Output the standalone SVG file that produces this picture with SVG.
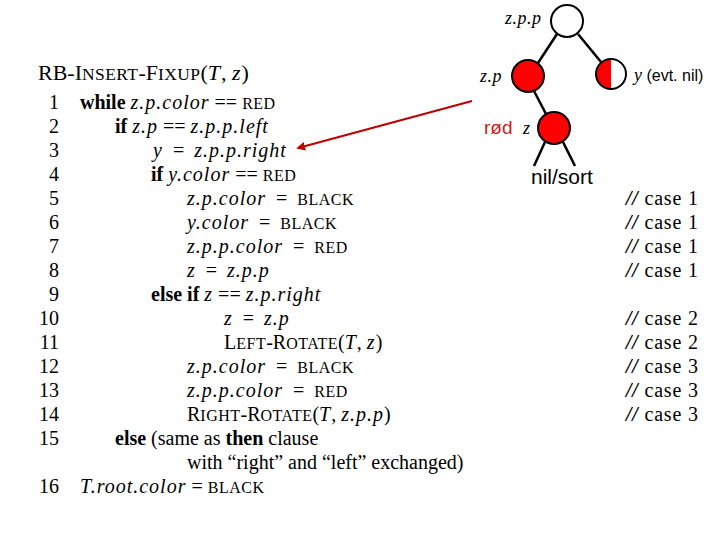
<svg xmlns="http://www.w3.org/2000/svg" width="720" height="540" viewBox="0 0 720 540">
<style>
.code{font-family:"Liberation Serif","Times New Roman",serif;font-size:20px;fill:#000}
.num{text-anchor:end}
.b{font-weight:bold}
.i{font-style:italic;letter-spacing:1px}
.sc{font-size:16px;letter-spacing:0.5px}
.cm{font-family:"Liberation Serif","Times New Roman",serif;font-size:20px;fill:#000;letter-spacing:0.8px}
.bi{font-weight:bold;font-style:italic}
.lbl{font-family:"Liberation Serif","Times New Roman",serif;font-style:italic;font-size:18px;fill:#000}
.sans{font-family:"Liberation Sans",Arial,sans-serif;fill:#000}
.edge{stroke:#000;stroke-width:2.5;fill:none}
.node{stroke:#000;stroke-width:2}
</style>
<defs>
<marker id="ah" viewBox="0 0 10 10" refX="8" refY="5" markerWidth="4" markerHeight="4" orient="auto-start-reverse">
<path d="M0,0 L10,5 L0,10 z" fill="#c00000"/>
</marker>
</defs>
<rect width="720" height="540" fill="#fff"/>

<g id="code">
<text class="code" x="38" y="80" style="font-size:22px">RB-I<tspan style="font-size:17.5px;letter-spacing:0.4px">NSERT</tspan>-F<tspan style="font-size:17.5px;letter-spacing:0.4px">IXUP</tspan>(<tspan class="i">T</tspan>, <tspan class="i">z</tspan>)</text>

<text class="code num" x="59" y="109">1</text>
<text class="code" x="80" y="109"><tspan class="b">while</tspan> <tspan class="i">z.p.color</tspan> == <tspan class="sc">RED</tspan></text>
<text class="code num" x="59" y="133">2</text>
<text class="code" x="115" y="133"><tspan class="b">if</tspan> <tspan class="i">z.p</tspan> == <tspan class="i">z.p.p.left</tspan></text>
<text class="code num" x="59" y="157">3</text>
<text class="code" x="153" y="157" xml:space="preserve"><tspan class="i">y</tspan>  =  <tspan class="i">z.p.p.right</tspan></text>
<text class="code num" x="59" y="181">4</text>
<text class="code" x="151" y="181"><tspan class="b">if</tspan> <tspan class="i">y.color</tspan> == <tspan class="sc">RED</tspan></text>
<text class="code num" x="59" y="205">5</text>
<text class="code" x="187" y="205" xml:space="preserve"><tspan class="i">z.p.color</tspan>  =  <tspan class="sc">BLACK</tspan></text>
<text class="code num" x="59" y="229">6</text>
<text class="code" x="187" y="229" xml:space="preserve"><tspan class="i">y.color</tspan>  =  <tspan class="sc">BLACK</tspan></text>
<text class="code num" x="59" y="253">7</text>
<text class="code" x="187" y="253" xml:space="preserve"><tspan class="i">z.p.p.color</tspan>  =  <tspan class="sc">RED</tspan></text>
<text class="code num" x="59" y="277">8</text>
<text class="code" x="187" y="277" xml:space="preserve"><tspan class="i">z</tspan>  =  <tspan class="i">z.p.p</tspan></text>
<text class="code num" x="59" y="301">9</text>
<text class="code" x="151" y="301"><tspan class="b">else if</tspan> <tspan class="i">z</tspan> == <tspan class="i">z.p.right</tspan></text>
<text class="code num" x="59" y="325">10</text>
<text class="code" x="224" y="325" xml:space="preserve"><tspan class="i">z</tspan>  =  <tspan class="i">z.p</tspan></text>
<text class="code num" x="59" y="349">11</text>
<text class="code" x="224" y="349">L<tspan class="sc">EFT</tspan>-R<tspan class="sc">OTATE</tspan>(<tspan class="i">T</tspan>, <tspan class="i">z</tspan>)</text>
<text class="code num" x="59" y="373">12</text>
<text class="code" x="187" y="373" xml:space="preserve"><tspan class="i">z.p.color</tspan>  =  <tspan class="sc">BLACK</tspan></text>
<text class="code num" x="59" y="397">13</text>
<text class="code" x="187" y="397" xml:space="preserve"><tspan class="i">z.p.p.color</tspan>  =  <tspan class="sc">RED</tspan></text>
<text class="code num" x="59" y="421">14</text>
<text class="code" x="187" y="421">R<tspan class="sc">IGHT</tspan>-R<tspan class="sc">OTATE</tspan>(<tspan class="i">T</tspan>, <tspan class="i">z.p.p</tspan>)</text>
<text class="code num" x="59" y="445">15</text>
<text class="code" x="115" y="445"><tspan class="b">else</tspan> (same as <tspan class="b">then</tspan> clause</text>
<text class="code" x="187" y="469">with “right” and “left” exchanged)</text>
<text class="code num" x="59" y="493">16</text>
<text class="code" x="80" y="493" xml:space="preserve"><tspan class="i">T.root.color</tspan> = <tspan class="sc">BLACK</tspan></text>
</g>

<g id="comments">
<text class="cm" x="626" y="205"><tspan class="bi">//</tspan> case 1</text>
<text class="cm" x="626" y="229"><tspan class="bi">//</tspan> case 1</text>
<text class="cm" x="626" y="253"><tspan class="bi">//</tspan> case 1</text>
<text class="cm" x="626" y="277"><tspan class="bi">//</tspan> case 1</text>
<text class="cm" x="626" y="325"><tspan class="bi">//</tspan> case 2</text>
<text class="cm" x="626" y="349"><tspan class="bi">//</tspan> case 2</text>
<text class="cm" x="626" y="373"><tspan class="bi">//</tspan> case 3</text>
<text class="cm" x="626" y="397"><tspan class="bi">//</tspan> case 3</text>
<text class="cm" x="626" y="421"><tspan class="bi">//</tspan> case 3</text>
</g>

<g id="connectors">
<line class="edge" x1="557" y1="34" x2="538" y2="63"/>
<line class="edge" x1="578" y1="34" x2="601" y2="62"/>
<line class="edge" x1="534" y1="91" x2="546" y2="114"/>
<line class="edge" x1="545" y1="142" x2="534" y2="166"/>
<line class="edge" x1="563" y1="142" x2="575" y2="166"/>
<line x1="472" y1="101" x2="298" y2="148" stroke="#c00000" stroke-width="2.2" marker-end="url(#ah)"/>
</g>

<g id="node-zpp">
<circle class="node" cx="567" cy="21" r="16" fill="#fff"/>
<text class="lbl" x="505" y="24" style="letter-spacing:0.5px">z.p.p</text>
</g>
<g id="node-zp">
<circle class="node" cx="528" cy="76" r="16" fill="#ff0000"/>
<text class="lbl" x="480" y="82" style="letter-spacing:0.5px">z.p</text>
</g>
<g id="node-y">
<circle cx="611" cy="74" r="15" fill="#fff"/>
<path d="M611,59 A15,15 0 0 0 611,89 Z" fill="#ff0000"/>
<circle class="node" cx="611" cy="74" r="15" fill="none"/>
<text x="634" y="81"><tspan class="lbl">y</tspan><tspan class="sans" style="font-size:16px"> (evt. nil)</tspan></text>
</g>
<g id="node-z">
<circle class="node" cx="554" cy="128" r="16" fill="#ff0000"/>
<text class="sans" x="484" y="134" style="font-size:19px;fill:#cc1a1a">rød</text>
<text class="lbl" x="523" y="134">z</text>
</g>
<g id="nil">
<text class="sans" x="531" y="184" style="font-size:21px">nil/sort</text>
</g>
</svg>
